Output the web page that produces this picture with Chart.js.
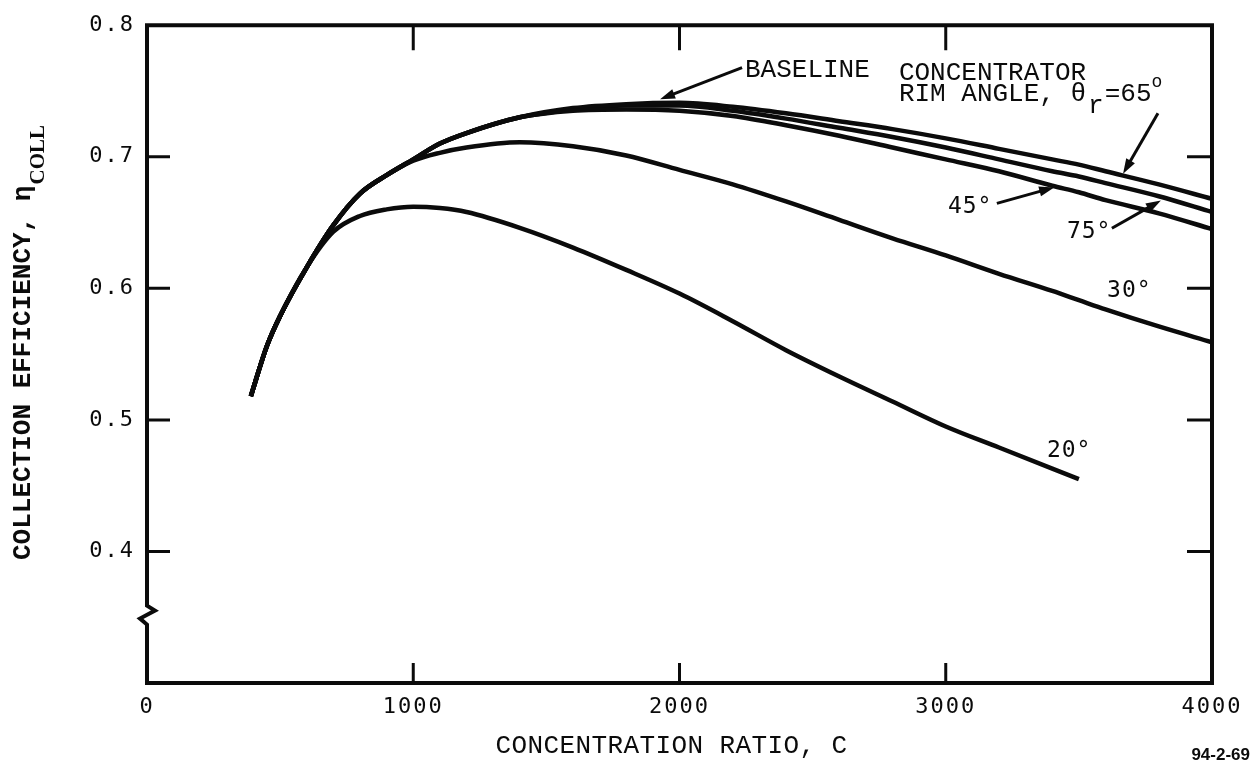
<!DOCTYPE html>
<html><head><meta charset="utf-8">
<script src="https://cdn.jsdelivr.net/npm/chart.js@4.4.0/dist/chart.umd.min.js"></script>
<style>html,body{margin:0;padding:0;background:#fff;}#wrap{width:1259px;height:769px;}</style>
</head><body><div id="wrap"><canvas id="c" width="1259" height="769"></canvas></div>
<script>
// ---- data ----
const concentration = [390, 450, 500, 600, 700, 800, 900, 1000, 1100, 1200, 1400, 1600, 1800, 2000, 2200, 2400, 2600, 2800, 3000, 3200, 3400, 3500, 3600, 3800, 4000];
const eff20 = [0.518, 0.556, 0.579, 0.616, 0.643, 0.655, 0.660, 0.662, 0.661, 0.658, 0.646, 0.631, 0.614, 0.596, 0.575, 0.553, 0.533, 0.514, 0.495, 0.479, 0.463, 0.455, null, null, null];
const eff30 = [0.518, 0.556, 0.579, 0.616, 0.648, 0.672, 0.686, 0.697, 0.703, 0.707, 0.711, 0.708, 0.701, 0.690, 0.679, 0.666, 0.652, 0.638, 0.625, 0.611, 0.598, 0.591, 0.584, 0.571, 0.559];
const eff45 = [0.518, 0.556, 0.579, 0.616, 0.648, 0.672, 0.686, 0.698, 0.710, 0.718, 0.730, 0.735, 0.736, 0.735, 0.731, 0.724, 0.716, 0.707, 0.698, 0.689, 0.678, 0.673, 0.667, 0.657, 0.645];
const eff65 = [0.518, 0.556, 0.579, 0.616, 0.648, 0.672, 0.686, 0.698, 0.710, 0.718, 0.730, 0.737, 0.740, 0.741, 0.738, 0.733, 0.727, 0.721, 0.714, 0.706, 0.698, 0.694, 0.689, 0.679, 0.668];
const eff75 = [0.518, 0.556, 0.579, 0.616, 0.648, 0.672, 0.686, 0.698, 0.710, 0.718, 0.730, 0.736, 0.739, 0.739, 0.735, 0.729, 0.722, 0.715, 0.707, 0.698, 0.689, 0.685, 0.680, 0.670, 0.658];
const seriesNames = ['20°', '30°', '45°', '65° (baseline)', '75°'];
const xTickValues = [0, 1000, 2000, 3000, 4000];
const yTickValues = [0.4, 0.5, 0.6, 0.7, 0.8];
const axisBreakValue = 0.352;

// ---- annotation texts (anchored in data units) ----
const notes = [
  {text: 'BASELINE', x: 2246, y: 0.7655, font: '26px "Liberation Mono"'},
  {text: 'CONCENTRATOR', x: 2824, y: 0.7633, font: '26px "Liberation Mono"'},
  {text: '45°', x: 3008, y: 0.6616, font: '23px "DejaVu Sans Mono"'},
  {text: '75°', x: 3455, y: 0.6427, font: '23px "DejaVu Sans Mono"'},
  {text: '30°', x: 3606, y: 0.5982, font: '23px "DejaVu Sans Mono"'},
  {text: '20°', x: 3380, y: 0.4761, font: '23px "DejaVu Sans Mono"'}
];
const arrows = [
  {from: [2235, 0.7678], to: [1927, 0.7437]},
  {from: [3797, 0.7331], to: [3666, 0.6871]},
  {from: [3192, 0.6646], to: [3407, 0.6767]},
  {from: [3624, 0.6457], to: [3808, 0.6668]}
];

const mk = arr => concentration.map((c, i) => ({x: c, y: arr[i]}));
const allSeries = [eff20, eff30, eff45, eff65, eff75];
const INK = '#0b0b0b';

const decor = {
  id: 'decor',
  beforeDraw(chart) { chart.ctx.letterSpacing = '2px'; },
  afterDatasetsDraw(chart) {
    const {ctx, chartArea: a, scales: {x, y}} = chart;
    ctx.save();
    ctx.letterSpacing = '0px';
    ctx.strokeStyle = INK; ctx.fillStyle = INK;
    // frame with axis break
    ctx.lineWidth = 4; ctx.lineJoin = 'miter'; ctx.lineCap = 'square';
    const yb = y.getPixelForValue(axisBreakValue);
    ctx.beginPath();
    ctx.moveTo(a.left, a.top); ctx.lineTo(a.right, a.top); ctx.lineTo(a.right, a.bottom); ctx.lineTo(a.left, a.bottom);
    ctx.lineTo(a.left, yb + 10); ctx.lineTo(a.left - 7, yb + 4); ctx.lineTo(a.left + 8, yb - 4); ctx.lineTo(a.left, yb - 9);
    ctx.lineTo(a.left, a.top); ctx.closePath();
    ctx.stroke();
    // inward tick marks
    ctx.lineWidth = 3; ctx.lineCap = 'butt';
    ctx.beginPath();
    yTickValues.filter(v => v < 0.79).forEach(v => {
      const p = y.getPixelForValue(v);
      ctx.moveTo(a.left, p); ctx.lineTo(a.left + 23, p);
      ctx.moveTo(a.right, p); ctx.lineTo(a.right - 25, p);
    });
    xTickValues.filter(v => v > 0 && v < 4000).forEach(v => {
      const p = x.getPixelForValue(v);
      ctx.moveTo(p, a.bottom); ctx.lineTo(p, a.bottom - 20);
      ctx.moveTo(p, a.top); ctx.lineTo(p, a.top + 25);
    });
    ctx.stroke();
    // arrows
    ctx.lineWidth = 3;
    arrows.forEach(ar => {
      const x0 = x.getPixelForValue(ar.from[0]), y0 = y.getPixelForValue(ar.from[1]);
      const x1 = x.getPixelForValue(ar.to[0]), y1 = y.getPixelForValue(ar.to[1]);
      const ang = Math.atan2(y1 - y0, x1 - x0);
      const hl = 15, hw = 5;
      ctx.beginPath(); ctx.moveTo(x0, y0);
      ctx.lineTo(x1 - Math.cos(ang) * hl * 0.8, y1 - Math.sin(ang) * hl * 0.8); ctx.stroke();
      ctx.beginPath();
      ctx.moveTo(x1, y1);
      ctx.lineTo(x1 - Math.cos(ang) * hl - Math.sin(ang) * hw, y1 - Math.sin(ang) * hl + Math.cos(ang) * hw);
      ctx.lineTo(x1 - Math.cos(ang) * hl + Math.sin(ang) * hw, y1 - Math.sin(ang) * hl - Math.cos(ang) * hw);
      ctx.closePath(); ctx.fill();
    });
    // text notes
    ctx.textBaseline = 'middle'; ctx.textAlign = 'left';
    notes.forEach(n => {
      ctx.font = n.font;
      ctx.letterSpacing = n.font.indexOf('DejaVu') >= 0 ? '1px' : '0px';
      ctx.fillText(n.text, x.getPixelForValue(n.x), y.getPixelForValue(n.y));
    });
    ctx.letterSpacing = '0px';
    // RIM ANGLE, θr=65°
    let rx = x.getPixelForValue(2824), ry = y.getPixelForValue(0.7474);
    ctx.font = '26px "Liberation Mono"';
    ctx.fillText('RIM ANGLE, θ', rx, ry); rx += ctx.measureText('RIM ANGLE, θ').width + 2;
    ctx.fillText('r', rx, ry + 12); rx += ctx.measureText('r').width + 1;
    ctx.fillText('=65', rx, ry); rx += ctx.measureText('=65').width;
    ctx.font = '18px "Liberation Mono"';
    ctx.fillText('o', rx, ry - 12);
    // y-axis title with subscript
    ctx.save();
    ctx.translate(30, 560); ctx.rotate(-Math.PI / 2);
    ctx.textBaseline = 'alphabetic';
    ctx.font = 'bold 26px "Liberation Mono"';
    const main = 'COLLECTION EFFICIENCY, η';
    ctx.fillText(main, 0, 0);
    const w = ctx.measureText(main).width;
    ctx.font = 'bold 21px "Liberation Serif"';
    ctx.fillText('COLL', w + 1, 14);
    ctx.restore();
    // figure id
    ctx.font = 'bold 17px "Liberation Sans"';
    ctx.textAlign = 'right'; ctx.textBaseline = 'middle';
    ctx.fillText('94-2-69', 1250, 755);
    ctx.restore();
  }
};

new Chart(document.getElementById('c'), {
  type: 'line',
  data: {
    datasets: allSeries.map((s, i) => ({
      label: seriesNames[i], data: mk(s),
      borderColor: INK, borderWidth: 4.5, pointRadius: 0,
      cubicInterpolationMode: 'monotone', fill: false, spanGaps: false
    }))
  },
  options: {
    responsive: false, animation: false, devicePixelRatio: 1,
    layout: {padding: {top: 23, right: 47, left: 0, bottom: 0}},
    plugins: {legend: {display: false}, tooltip: {enabled: false}},
    scales: {
      x: {
        type: 'linear', min: 0, max: 4000, position: 'bottom',
        afterBuildTicks: s => { s.ticks = xTickValues.map(v => ({value: v})); },
        ticks: {color: INK, font: {family: 'DejaVu Sans Mono', size: 22}, padding: 11, maxRotation: 0, autoSkip: false, callback: v => String(v)},
        grid: {display: false, drawTicks: false}, border: {display: false},
        title: {display: true, text: 'CONCENTRATION RATIO, C', color: INK, font: {family: 'Liberation Mono', size: 26}, padding: {top: 0, bottom: 7}},
        afterFit: s => {
          s.height = 86;
          if (!s._titlePatched) {
            const orig = s.drawTitle;
            s.drawTitle = function () { const c = this.ctx; c.save(); c.letterSpacing = '0.4px'; c.translate(-8, 0); orig.call(this); c.restore(); };
            s._titlePatched = true;
          }
        }
      },
      y: {
        type: 'linear', min: 0.3, max: 0.8,
        afterBuildTicks: s => { s.ticks = yTickValues.map(v => ({value: v})); },
        ticks: {color: INK, font: {family: 'DejaVu Sans Mono', size: 22}, padding: 12, callback: v => v.toFixed(1)},
        grid: {display: false, drawTicks: false}, border: {display: false},
        afterFit: s => { s.width = 147; }
      }
    }
  },
  plugins: [decor]
});
</script></body></html>
